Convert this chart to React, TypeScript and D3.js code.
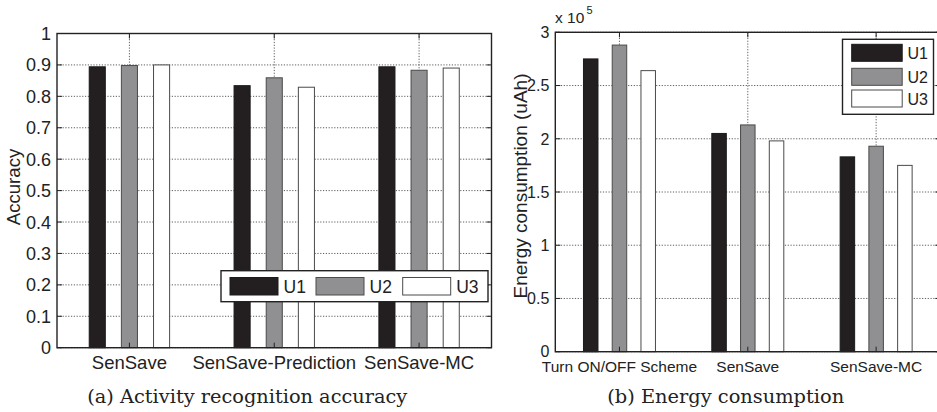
import React from "react";
import * as d3 from "d3";

const seriesNames = ["U1", "U2", "U3"];
const seriesFill = ["#231f20", "#909092", "#ffffff"];
const seriesStroke = ["#1a1a1a", "#4a4a4a", "#4a4a4a"];

const catsA = ["SenSave", "SenSave-Prediction", "SenSave-MC"];
const accU1 = [0.894, 0.834, 0.894];
const accU2 = [0.898, 0.859, 0.883];
const accU3 = [0.9, 0.829, 0.89];
const ticksA = [0, 0.1, 0.2, 0.3, 0.4, 0.5, 0.6, 0.7, 0.8, 0.9, 1];

const catsB = ["Turn ON/OFF Scheme", "SenSave", "SenSave-MC"];
const engU1 = [275000, 205000, 183000];
const engU2 = [288000, 213000, 193000];
const engU3 = [264000, 198000, 175000];
const ticksB = [0, 0.5, 1, 1.5, 2, 2.5, 3];

const FONT = "'Liberation Sans', Arial, Helvetica, sans-serif";
const SERIF = "'DejaVu Serif', 'Century Schoolbook', serif";

type PanelProps = {
  cats: string[];
  data: number[][];
  ticks: number[];
  yMax: number;
  scale: number;
  left: number;
  right: number;
  top: number;
  bottom: number;
  offset: number;
  barW: number;
  tickSize: number;
  xlabSize: number;
  xlabDy: number;
  ylabSize: number;
  fmt: (v: number) => string;
  ylabel: string;
  ylabelX: number;
  ylabelY: number;
  caption: string;
  capX: number;
  capW: number;
};

function Panel(p: PanelProps) {
  const x = d3.scaleLinear().domain([0.5, 3.5]).range([p.left, p.right]);
  const y = d3.scaleLinear().domain([0, p.yMax]).range([p.bottom, p.top]);
  const idx = d3.range(p.cats.length);
  const tick = 5;
  return (
    <g fontFamily={FONT} fill="#222">
      {p.ticks.map((t) => (
        <line key={"g" + t} x1={p.left} x2={p.right} y1={y(t)} y2={y(t)} stroke="#333" strokeWidth={0.8} strokeDasharray="1.2,1.6" />
      ))}
      {idx.map((i) => (
        <line key={"xg" + i} x1={x(i + 1)} x2={x(i + 1)} y1={p.top} y2={p.bottom} stroke="#333" strokeWidth={0.8} strokeDasharray="1.2,1.6" />
      ))}
      {p.data.map((s, si) =>
        s.map((v, ci) => {
          const cx = x(ci + 1 + (si - 1) * p.offset);
          const w = x(p.barW) - x(0);
          const val = v / p.scale;
          return (
            <rect key={si + "-" + ci} x={cx - w / 2} y={y(val)} width={w} height={y(0) - y(val)} fill={seriesFill[si]} stroke={seriesStroke[si]} strokeWidth={1} />
          );
        })
      )}
      <rect x={p.left} y={p.top} width={p.right - p.left} height={p.bottom - p.top} fill="none" stroke="#222" strokeWidth={1.4} />
      {p.ticks.map((t) => (
        <g key={"t" + t}>
          <line x1={p.left} x2={p.left + tick} y1={y(t)} y2={y(t)} stroke="#222" strokeWidth={1} />
          <line x1={p.right} x2={p.right - tick} y1={y(t)} y2={y(t)} stroke="#222" strokeWidth={1} />
          <text x={p.left - 6} y={y(t) + p.tickSize * 0.36} textAnchor="end" fontSize={p.tickSize}>
            {p.fmt(t)}
          </text>
        </g>
      ))}
      {idx.map((i) => (
        <g key={"xt" + i}>
          <line x1={x(i + 1)} x2={x(i + 1)} y1={p.bottom} y2={p.bottom - tick} stroke="#222" strokeWidth={1} />
          <line x1={x(i + 1)} x2={x(i + 1)} y1={p.top} y2={p.top + tick} stroke="#222" strokeWidth={1} />
          <text x={x(i + 1)} y={p.bottom + p.xlabDy} textAnchor="middle" fontSize={p.xlabSize}>
            {p.cats[i]}
          </text>
        </g>
      ))}
      <text transform={`translate(${p.ylabelX},${p.ylabelY}) rotate(-90)`} textAnchor="middle" fontSize={p.ylabSize}>
        {p.ylabel}
      </text>
      <text x={p.capX} y={402.5} textAnchor="middle" fontSize={19} fontFamily={SERIF} textLength={p.capW} lengthAdjust="spacingAndGlyphs">
        {p.caption}
      </text>
    </g>
  );
}

export default function App() {
  return (
    <svg width={937} height={412} style={{ position: "absolute", left: 0, top: 0, background: "#fff" }}>
      <rect width={937} height={412} fill="#fff" />
      <Panel
        cats={catsA}
        data={[accU1, accU2, accU3]}
        ticks={ticksA}
        yMax={1}
        scale={1}
        left={57}
        right={491.5}
        top={33.5}
        bottom={347.7}
        offset={0.222}
        barW={0.111}
        tickSize={18}
        xlabSize={18.5}
        xlabDy={21.5}
        ylabSize={18.6}
        fmt={(v) => (v === 0 || v === 1 ? String(v) : v.toFixed(1))}
        ylabel="Accuracy"
        ylabelX={20}
        ylabelY={187}
        caption="(a) Activity recognition accuracy"
        capX={247.3}
        capW={320}
      />
      <Panel
        cats={catsB}
        data={[engU1, engU2, engU3]}
        ticks={ticksB}
        yMax={3}
        scale={1e5}
        left={555.3}
        right={940.3}
        top={32.3}
        bottom={351.7}
        offset={0.224}
        barW={0.113}
        tickSize={16}
        xlabSize={15.5}
        xlabDy={20.3}
        ylabSize={19}
        fmt={(v) => String(v)}
        ylabel="Energy consumption (uAh)"
        ylabelX={527}
        ylabelY={186}
        caption="(b) Energy consumption"
        capX={725.7}
        capW={237}
      />
      <g fontFamily={FONT} fill="#222">
        <text x={555} y={23.3} fontSize={15.5}>x 10</text>
        <text x={586.5} y={14} fontSize={11}>5</text>
      </g>
      <g fontFamily={FONT} fill="#222">
        <rect x={221} y={270.7} width={267} height={31} fill="#fff" stroke="#222" strokeWidth={1.4} />
        {seriesNames.map((s, i) => {
          const xs = [230, 316, 402.7][i];
          return (
            <g key={s}>
              <rect x={xs} y={277.5} width={48} height={17.5} fill={seriesFill[i]} stroke={seriesStroke[i]} strokeWidth={1} />
              <text x={xs + 53.5} y={292.8} fontSize={17.5}>{s}</text>
            </g>
          );
        })}
      </g>
      <g fontFamily={FONT} fill="#222">
        <rect x={842.5} y={39.3} width={91} height={75} fill="#fff" stroke="#222" strokeWidth={1.4} />
        {seriesNames.map((s, i) => {
          const ys = [44.3, 68.3, 90][i];
          return (
            <g key={s}>
              <rect x={851.7} y={ys} width={50.5} height={17} fill={seriesFill[i]} stroke={seriesStroke[i]} strokeWidth={1} />
              <text x={907.5} y={ys + 14.5} fontSize={16}>{s}</text>
            </g>
          );
        })}
      </g>
    </svg>
  );
}
